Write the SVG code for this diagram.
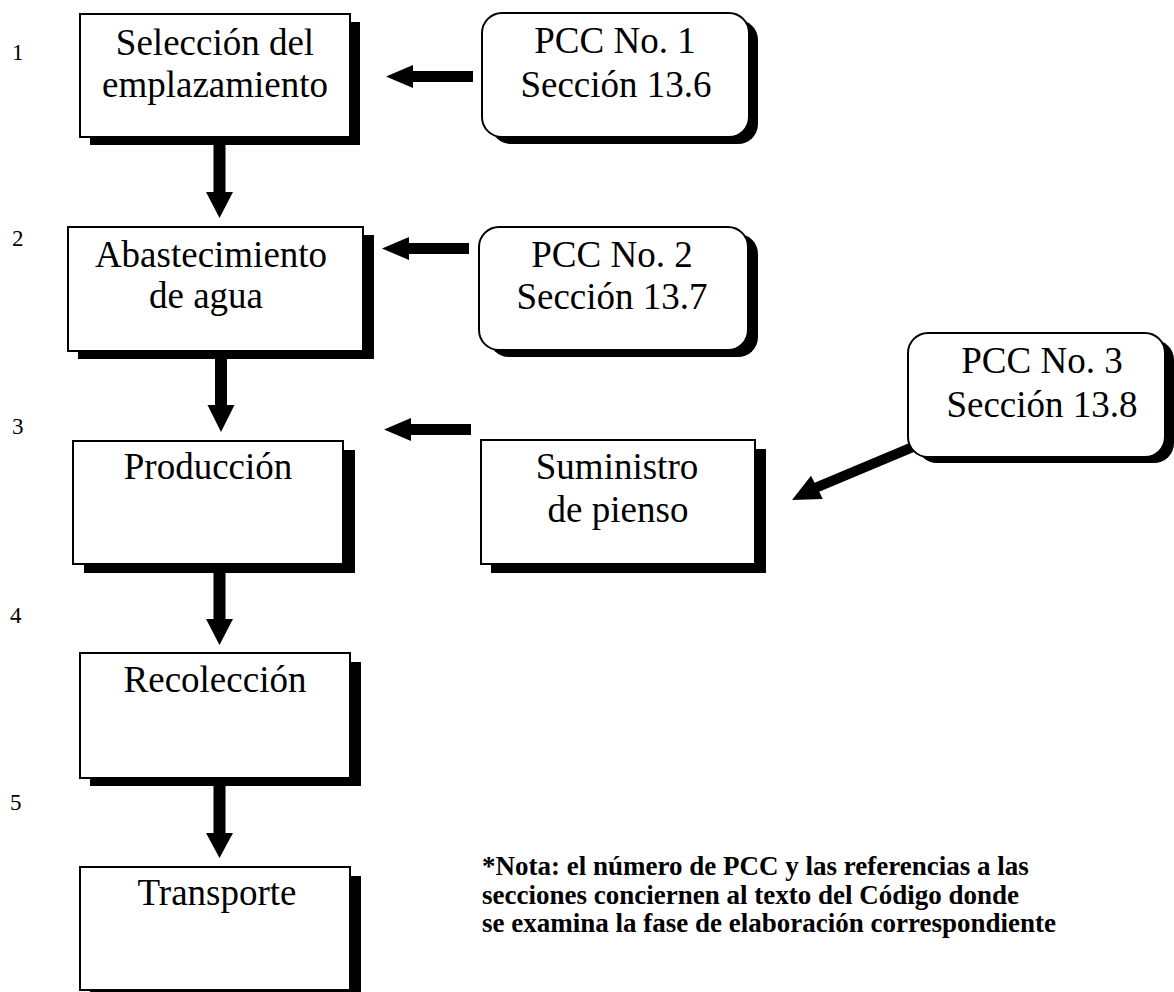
<svg xmlns="http://www.w3.org/2000/svg" width="1174" height="992" viewBox="0 0 1174 992">
  <style>
    .shadow { fill: #000; }
    .box { fill: #fff; stroke: #000; stroke-width: 2; }
    .lbl { font-family: "Liberation Serif", "Times New Roman", serif; font-size: 37px; fill: #000; text-anchor: middle; }
    .num { font-family: "Liberation Serif", "Times New Roman", serif; font-size: 23px; fill: #000; }
    .note { font-family: "Liberation Serif", "Times New Roman", serif; font-size: 27px; font-weight: bold; fill: #000; }
    .arrow { fill: #000; stroke: none; }
  </style>
  <rect width="1174" height="992" fill="#fff"/>

  <!-- step numbers -->
  <g id="step-numbers">
    <text class="num" x="12" y="60">1</text>
    <text class="num" x="12" y="246">2</text>
    <text class="num" x="12" y="434">3</text>
    <text class="num" x="10" y="623">4</text>
    <text class="num" x="10" y="810">5</text>
  </g>

  <!-- connectors -->
  <g id="connectors">
    <!-- vertical flow arrows -->
    <polygon class="arrow" points="213.5,140 225.5,140 225.5,192 233,192 219.5,218 206,192 213.5,192"/>
    <polygon class="arrow" points="215,352 227,352 227,405 234.5,405 221,432 207.5,405 215,405"/>
    <polygon class="arrow" points="213.5,566 225.5,566 225.5,619 233,619 219.5,645 206,619 213.5,619"/>
    <polygon class="arrow" points="213.5,780 225.5,780 225.5,833 233,833 219.5,858 206,833 213.5,833"/>
    <!-- horizontal arrows from control points -->
    <polygon class="arrow" points="473,71 413,71 413,65 386,76.5 413,88 413,82 473,82"/>
    <polygon class="arrow" points="469,243 409,243 409,237 382,248.5 409,260 409,254 469,254"/>
    <polygon class="arrow" points="471,424 411,424 411,418 384,429.5 411,441 411,435 471,435"/>
    <!-- diagonal arrow from PCC No. 3 -->
    <polygon class="arrow" points="922.3,448.5 917.7,439.5 814.6,482.8 811,475.7 792,500 822.8,498.9 819.2,491.8"/>
  </g>

  <!-- process steps -->
  <g id="step-seleccion">
    <rect class="shadow" x="90" y="22" width="270" height="123"/>
    <rect class="box" x="80" y="14" width="270" height="123"/>
    <text class="lbl" x="215" y="55">Selección del</text>
    <text class="lbl" x="215" y="97">emplazamiento</text>
  </g>

  <g id="step-abastecimiento">
    <rect class="shadow" x="78" y="235" width="296" height="124"/>
    <rect class="box" x="68" y="227" width="295" height="124"/>
    <text class="lbl" x="211" y="267">Abastecimiento</text>
    <text class="lbl" x="206" y="308">de agua</text>
  </g>

  <g id="step-produccion">
    <rect class="shadow" x="84" y="450" width="271" height="123"/>
    <rect class="box" x="73" y="441" width="270" height="123"/>
    <text class="lbl" x="208" y="479">Producción</text>
  </g>

  <g id="step-recoleccion">
    <rect class="shadow" x="90" y="662" width="271" height="124"/>
    <rect class="box" x="80" y="653" width="270" height="125"/>
    <text class="lbl" x="215" y="692">Recolección</text>
  </g>

  <g id="step-transporte">
    <rect class="shadow" x="90" y="876" width="271" height="124"/>
    <rect class="box" x="80" y="867" width="270" height="123"/>
    <text class="lbl" x="217" y="905">Transporte</text>
  </g>

  <g id="step-suministro">
    <rect class="shadow" x="491" y="449" width="275" height="124"/>
    <rect class="box" x="481" y="440" width="274" height="124"/>
    <text class="lbl" x="617" y="479">Suministro</text>
    <text class="lbl" x="618" y="522">de pienso</text>
  </g>

  <!-- critical control points -->
  <g id="pcc-1">
    <rect class="shadow" x="491" y="20" width="267" height="124" rx="20"/>
    <rect class="box" x="482" y="13" width="267" height="124" rx="20"/>
    <text class="lbl" x="615" y="53">PCC No. 1</text>
    <text class="lbl" x="616" y="97">Sección 13.6</text>
  </g>

  <g id="pcc-2">
    <rect class="shadow" x="489" y="234" width="269" height="123" rx="20"/>
    <rect class="box" x="479" y="227" width="269" height="123" rx="20"/>
    <text class="lbl" x="612" y="267">PCC No. 2</text>
    <text class="lbl" x="612" y="309">Sección 13.7</text>
  </g>

  <g id="pcc-3">
    <rect class="shadow" x="917" y="340" width="257" height="123" rx="20"/>
    <rect class="box" x="908" y="333" width="257" height="124" rx="20"/>
    <text class="lbl" x="1042" y="373">PCC No. 3</text>
    <text class="lbl" x="1042" y="417">Sección 13.8</text>
  </g>

  <!-- footnote -->
  <g id="nota">
    <text class="note" x="482" y="875">*Nota: el número de PCC y las referencias a las</text>
    <text class="note" x="482" y="904">secciones conciernen al texto del Código donde</text>
    <text class="note" x="482" y="932">se examina la fase de elaboración correspondiente</text>
  </g>
</svg>
